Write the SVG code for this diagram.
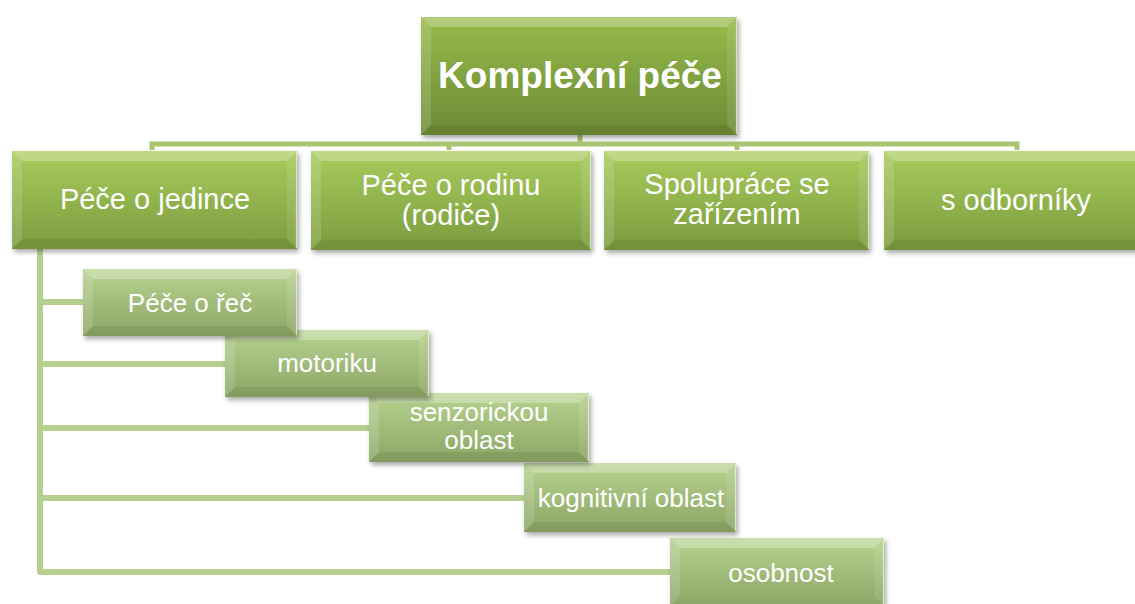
<svg xmlns="http://www.w3.org/2000/svg" width="1135" height="604" viewBox="0 0 1135 604">
<defs>
<linearGradient id="gTop" x1="0" y1="0" x2="0" y2="1"><stop offset="0" stop-color="#97bb4b"/><stop offset="1" stop-color="#6c8a35"/></linearGradient>
<linearGradient id="gL1" x1="0" y1="0" x2="0" y2="1"><stop offset="0" stop-color="#a8cc5c"/><stop offset="1" stop-color="#7b9b3e"/></linearGradient>
<linearGradient id="gL2" x1="0" y1="0" x2="0" y2="1"><stop offset="0" stop-color="#b7d38f"/><stop offset="1" stop-color="#8ca566"/></linearGradient>
<filter id="sh" x="-10%" y="-10%" width="130%" height="140%"><feDropShadow dx="2" dy="3" stdDeviation="2.5" flood-color="#000" flood-opacity="0.35"/></filter>
</defs>
<style>
.conn{fill:none;stroke:#b6cf8e;stroke-width:6;stroke-linejoin:round;stroke-linecap:butt}
.connT{fill:none;stroke:#a9c572;stroke-width:5}
.bt{fill:#fff;fill-opacity:.28}
.bl{fill:#fff;fill-opacity:.14}
.br{fill:#fff;fill-opacity:.10}
.bb{fill:#000;fill-opacity:.07}
.edge{fill:none;stroke:#e8f3d2;stroke-width:1.2;stroke-opacity:.8}
.t1{font-family:"Liberation Sans",Arial,sans-serif;font-size:29px;fill:#fff;text-anchor:middle}
.t0{font-family:"Liberation Sans",Arial,sans-serif;font-size:37px;font-weight:bold;fill:#fff;text-anchor:middle}
.t2{font-family:"Liberation Sans",Arial,sans-serif;font-size:26px;fill:#fff;text-anchor:middle}
</style>
<g id="connectors">
<path class="connT" d="M580 135 V144 M152 150 V144 H1017 V150 M449 144 V150 M737 144 V150"/>
<path class="conn" d="M40 248 V572 H672 M40 302 H85 M40 364 H227 M40 428 H371 M40 498 H526"/>
</g>
<g id="n-top">
<rect x="421" y="17" width="316" height="118" fill="url(#gTop)" filter="url(#sh)"/>
<polygon class="bt" points="421,17 737,17 727,27 431,27"/>
<polygon class="bl" points="421,17 431,27 431,125 421,135"/>
<polygon class="br" points="737,17 737,135 727,125 727,27"/>
<polygon class="bb" points="421,135 737,135 727,125 431,125"/>
<line class="edge" x1="736.5" y1="18" x2="736.5" y2="134"/>
<text class="t0" x="580" y="88">Komplexní péče</text>
</g>
<g id="n-jedince">
<rect x="12" y="151" width="285" height="98" fill="url(#gL1)" filter="url(#sh)"/>
<polygon class="bt" points="12,151 297,151 287,161 22,161"/>
<polygon class="bl" points="12,151 22,161 22,239 12,249"/>
<polygon class="br" points="297,151 297,249 287,239 287,161"/>
<polygon class="bb" points="12,249 297,249 287,239 22,239"/>
<line class="edge" x1="296.5" y1="152" x2="296.5" y2="248"/>
<text class="t1" x="155" y="209">Péče o jedince</text>
</g>
<g id="n-rodina">
<rect x="311" y="151" width="280" height="99" fill="url(#gL1)" filter="url(#sh)"/>
<polygon class="bt" points="311,151 591,151 581,161 321,161"/>
<polygon class="bl" points="311,151 321,161 321,240 311,250"/>
<polygon class="br" points="591,151 591,250 581,240 581,161"/>
<polygon class="bb" points="311,250 591,250 581,240 321,240"/>
<line class="edge" x1="590.5" y1="152" x2="590.5" y2="249"/>
<text class="t1" x="451" y="195">Péče o rodinu</text>
<text class="t1" x="451" y="225">(rodiče)</text>
</g>
<g id="n-spoluprace">
<rect x="604" y="151" width="265" height="99" fill="url(#gL1)" filter="url(#sh)"/>
<polygon class="bt" points="604,151 869,151 859,161 614,161"/>
<polygon class="bl" points="604,151 614,161 614,240 604,250"/>
<polygon class="br" points="869,151 869,250 859,240 859,161"/>
<polygon class="bb" points="604,250 869,250 859,240 614,240"/>
<line class="edge" x1="868.5" y1="152" x2="868.5" y2="249"/>
<text class="t1" x="737" y="194">Spolupráce se</text>
<text class="t1" x="737" y="224">zařízením</text>
</g>
<g id="n-odbornici">
<rect x="884" y="151" width="270" height="99" fill="url(#gL1)" filter="url(#sh)"/>
<polygon class="bt" points="884,151 1154,151 1144,161 894,161"/>
<polygon class="bl" points="884,151 894,161 894,240 884,250"/>
<polygon class="bb" points="884,250 1154,250 1144,240 894,240"/>
<text class="t1" x="1016" y="210">s odborníky</text>
</g>
<g id="n-osobnost">
<rect x="670" y="538" width="214" height="68" fill="url(#gL2)" filter="url(#sh)"/>
<polygon class="bt" points="670,538 884,538 874,548 680,548"/>
<polygon class="bl" points="670,538 680,548 680,596 670,606"/>
<polygon class="br" points="884,538 884,606 874,596 874,548"/>
<line class="edge" x1="883.5" y1="539" x2="883.5" y2="605"/>
<text class="t2" x="781" y="582">osobnost</text>
</g>
<g id="n-kognitivni">
<rect x="524" y="463" width="212" height="69" fill="url(#gL2)" filter="url(#sh)"/>
<polygon class="bt" points="524,463 736,463 726,473 534,473"/>
<polygon class="bl" points="524,463 534,473 534,522 524,532"/>
<polygon class="br" points="736,463 736,532 726,522 726,473"/>
<polygon class="bb" points="524,532 736,532 726,522 534,522"/>
<line class="edge" x1="735.5" y1="464" x2="735.5" y2="531"/>
<text class="t2" x="631" y="507">kognitivní oblast</text>
</g>
<g id="n-senzoricka">
<rect x="369" y="393" width="220" height="69" fill="url(#gL2)" filter="url(#sh)"/>
<polygon class="bt" points="369,393 589,393 579,403 379,403"/>
<polygon class="bl" points="369,393 379,403 379,452 369,462"/>
<polygon class="br" points="589,393 589,462 579,452 579,403"/>
<polygon class="bb" points="369,462 589,462 579,452 379,452"/>
<line class="edge" x1="588.5" y1="394" x2="588.5" y2="461"/>
<text class="t2" x="479" y="421">senzorickou</text>
<text class="t2" x="479" y="449">oblast</text>
</g>
<g id="n-motoriku">
<rect x="225" y="330" width="204" height="67" fill="url(#gL2)" filter="url(#sh)"/>
<polygon class="bt" points="225,330 429,330 419,340 235,340"/>
<polygon class="bl" points="225,330 235,340 235,387 225,397"/>
<polygon class="br" points="429,330 429,397 419,387 419,340"/>
<polygon class="bb" points="225,397 429,397 419,387 235,387"/>
<line class="edge" x1="428.5" y1="331" x2="428.5" y2="396"/>
<text class="t2" x="327" y="372">motoriku</text>
</g>
<g id="n-rec">
<rect x="83" y="269" width="214" height="67" fill="url(#gL2)" filter="url(#sh)"/>
<polygon class="bt" points="83,269 297,269 287,279 93,279"/>
<polygon class="bl" points="83,269 93,279 93,326 83,336"/>
<polygon class="br" points="297,269 297,336 287,326 287,279"/>
<polygon class="bb" points="83,336 297,336 287,326 93,326"/>
<line class="edge" x1="296.5" y1="270" x2="296.5" y2="335"/>
<text class="t2" x="190" y="312">Péče o řeč</text>
</g>
</svg>
